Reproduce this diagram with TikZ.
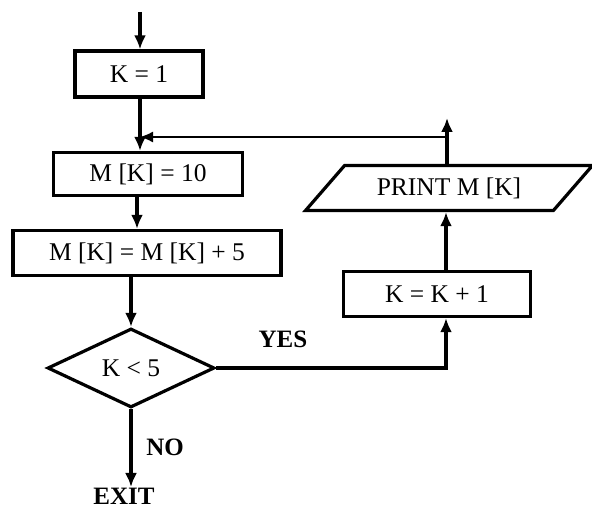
\documentclass[tikz,border=0pt]{standalone}
\usepackage{fontspec}
\setmainfont{Liberation Serif}
\usetikzlibrary{positioning, calc, arrows.meta, shapes.geometric}
\tikzset{process/.style={draw, line width=3.2pt, rectangle, inner sep=0pt}}
\tikzset{decision/.style={draw, line width=3.2pt, diamond, aspect=2.1, inner sep=0pt}}
\tikzset{io/.style={draw, line width=3.2pt, trapezium, trapezium left angle=38, trapezium right angle=142, trapezium stretches=true, inner sep=0pt}}
\tikzset{flow/.style={line width=3.2pt, -{Latex[length=14pt, width=12pt]}}}
\tikzset{back/.style={line width=1.6pt, -{Latex[length=13pt, width=11pt]}}}
\tikzset{answer/.style={font=\fontsize{25}{29}\selectfont\bfseries}}

\begin{document}
\begin{tikzpicture}[x=1pt, y=-1pt, font=\fontsize{25.5}{29}\selectfont]
      \useasboundingbox (0,0) rectangle (592,510);

      % left column
      \coordinate (entry) at (140,12);
      \node[process, minimum width=128pt, minimum height=46pt] (kone) at (139,74) {K = 1};
      \node[process, minimum width=189pt, minimum height=43pt] (mten) at (148,174) {M [K] = 10};
      \node[process, minimum width=268pt, minimum height=45pt] (madd) at (147,253) {M [K] = M [K] + 5};
      \node[decision, minimum width=167pt, minimum height=79pt] (test) at (131,368) {K < 5};
      \node[answer, anchor=north, inner sep=1pt] (exit) at (124,487) {EXIT};
      \node[answer] (no) at (165,447) {NO};
      \node[answer] (yes) at (283,339) {YES};

      % right column
      \coordinate (col) at (137,0);
      \coordinate (rcol) at (446,0);
      \node[process, minimum width=187pt, minimum height=45pt] (kinc) at (437,294) {K = K + 1};
      \node[io, minimum width=287pt, minimum height=45pt] (print) at (449,188) {PRINT M [K]};
      \coordinate (up) at (447,118);
      \coordinate (loop) at (447,137);

      \draw[flow] (entry) -- (kone.north -| entry);
      \draw[flow] (kone.south -| entry) -- (mten.north -| entry);
      \draw[flow] (mten.south -| col) -- (madd.north -| col);
      \draw[flow] (madd.south -| test.north) -- (test.north);
      \draw[flow] (test.south) -- (exit.north -| test.south);
      \draw[flow] (test.east) -| (rcol |- kinc.south);
      \draw[flow] (rcol |- kinc.north) -- (rcol |- print.south);
      \draw[flow] (up |- print.north) -- (up);
      \draw[back] (loop) -- (loop -| entry);
    \end{tikzpicture}
\end{document}
